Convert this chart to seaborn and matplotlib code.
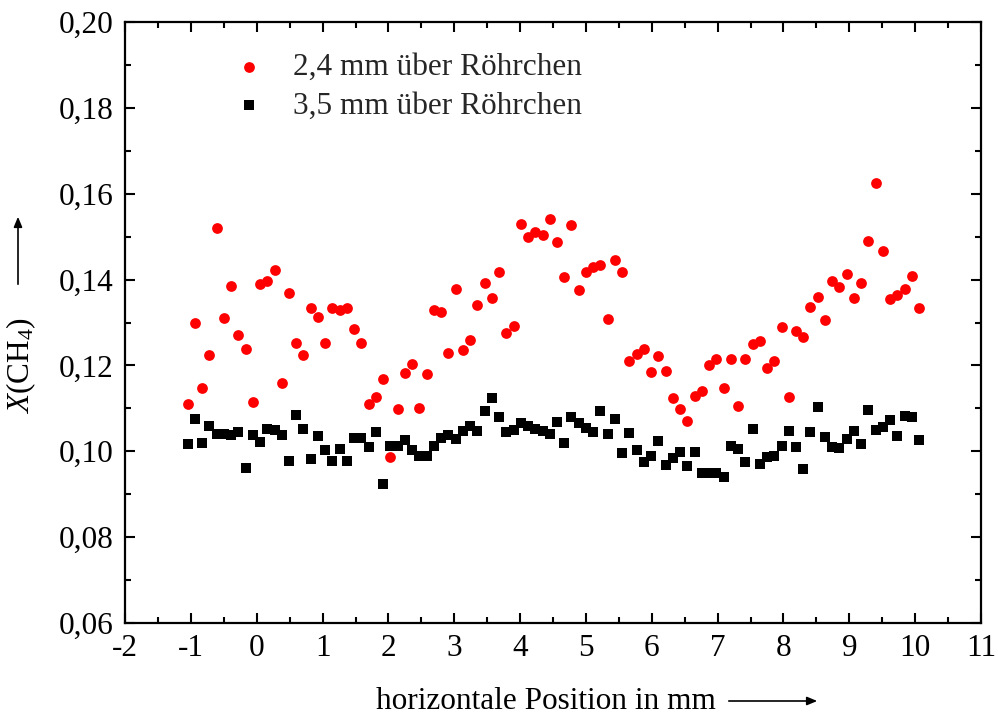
import numpy as np
import pandas as pd
import matplotlib
matplotlib.use("Agg")
import matplotlib.pyplot as plt
from matplotlib.ticker import FuncFormatter, MultipleLocator
import seaborn as sns

# ---- data ----
x_pos = [-1.05, -0.94, -0.83, -0.72, -0.61, -0.50, -0.39, -0.28, -0.17, -0.06,
         0.05, 0.16, 0.27, 0.38, 0.49, 0.60, 0.71, 0.82, 0.93, 1.04,
         1.15, 1.26, 1.37, 1.48, 1.59, 1.70, 1.81, 1.92, 2.03, 2.14,
         2.25, 2.36, 2.47, 2.58, 2.69, 2.80, 2.91, 3.02, 3.13, 3.24,
         3.35, 3.46, 3.57, 3.68, 3.79, 3.90, 4.01, 4.12, 4.23, 4.34,
         4.45, 4.56, 4.67, 4.78, 4.89, 5.00, 5.11, 5.22, 5.33, 5.44,
         5.55, 5.66, 5.77, 5.88, 5.99, 6.10, 6.21, 6.32, 6.43, 6.54,
         6.65, 6.76, 6.87, 6.98, 7.09, 7.20, 7.31, 7.42, 7.53, 7.64,
         7.75, 7.86, 7.97, 8.08, 8.19, 8.30, 8.41, 8.52, 8.63, 8.74,
         8.85, 8.96, 9.07, 9.18, 9.29, 9.40, 9.51, 9.62, 9.73, 9.84,
         9.95, 10.06]

y_24mm = [0.1109, 0.1298, 0.1148, 0.1224, 0.1521, 0.1311, 0.1385, 0.1270, 0.1238, 0.1114,
          0.1389, 0.1396, 0.1423, 0.1160, 0.1368, 0.1253, 0.1225, 0.1333, 0.1312, 0.1253,
          0.1333, 0.1329, 0.1334, 0.1285, 0.1252, 0.1111, 0.1127, 0.1169, 0.0987, 0.1099,
          0.1183, 0.1203, 0.1101, 0.1180, 0.1329, 0.1324, 0.1228, 0.1378, 0.1236, 0.1259,
          0.1341, 0.1392, 0.1356, 0.1417, 0.1275, 0.1291, 0.1530, 0.1500, 0.1510, 0.1503,
          0.1541, 0.1488, 0.1406, 0.1528, 0.1376, 0.1417, 0.1430, 0.1433, 0.1308, 0.1445,
          0.1417, 0.1210, 0.1226, 0.1238, 0.1184, 0.1221, 0.1186, 0.1124, 0.1098, 0.1071,
          0.1129, 0.1141, 0.1200, 0.1216, 0.1148, 0.1214, 0.1105, 0.1214, 0.1249, 0.1256,
          0.1195, 0.1210, 0.1289, 0.1127, 0.1281, 0.1266, 0.1336, 0.1360, 0.1305, 0.1397,
          0.1383, 0.1413, 0.1356, 0.1391, 0.1490, 0.1625, 0.1466, 0.1354, 0.1363, 0.1378,
          0.1408, 0.1334]

y_35mm = [0.1016, 0.1076, 0.1020, 0.1058, 0.1041, 0.1041, 0.1037, 0.1046, 0.0961, 0.1038,
          0.1022, 0.1051, 0.1050, 0.1037, 0.0977, 0.1085, 0.1052, 0.0981, 0.1036, 0.1002,
          0.0977, 0.1005, 0.0977, 0.1030, 0.1031, 0.1011, 0.1046, 0.0924, 0.1012, 0.1012,
          0.1027, 0.1002, 0.0989, 0.0990, 0.1012, 0.1031, 0.1039, 0.1029, 0.1047, 0.1058,
          0.1047, 0.1093, 0.1124, 0.1080, 0.1045, 0.1049, 0.1065, 0.1059, 0.1052, 0.1048,
          0.1040, 0.1069, 0.1019, 0.1079, 0.1067, 0.1055, 0.1044, 0.1093, 0.1041, 0.1075,
          0.0995, 0.1043, 0.1004, 0.0975, 0.0989, 0.1023, 0.0969, 0.0985, 0.0998, 0.0966,
          0.0998, 0.0949, 0.0949, 0.0949, 0.0941, 0.1012, 0.1006, 0.0974, 0.1053, 0.0971,
          0.0987, 0.0988, 0.1012, 0.1047, 0.1009, 0.0958, 0.1046, 0.1103, 0.1033, 0.1011,
          0.1007, 0.1029, 0.1047, 0.1016, 0.1096, 0.1049, 0.1057, 0.1072, 0.1035, 0.1082,
          0.1080, 0.1027]

label_24 = "2,4 mm über Röhrchen"
label_35 = "3,5 mm über Röhrchen"
x_ticks = list(range(-2, 12))
y_ticks = [0.06, 0.08, 0.10, 0.12, 0.14, 0.16, 0.18, 0.20]

df24 = pd.DataFrame({"x": x_pos, "y": y_24mm})
df35 = pd.DataFrame({"x": x_pos, "y": y_35mm})

sns.set_theme(style="ticks")
plt.rcParams["font.family"] = ["Liberation Serif", "DejaVu Serif"]
plt.rcParams["mathtext.fontset"] = "custom"
plt.rcParams["mathtext.rm"] = "Liberation Serif"
plt.rcParams["mathtext.it"] = "Liberation Serif:italic"

FS = 22.5
fig = plt.figure(figsize=(9.98, 7.17), dpi=100)
ax = fig.add_axes([0.1253, 0.1311, 0.8577, 0.8382])

sns.scatterplot(data=df24, x="x", y="y", ax=ax, color="#ff0000", marker="o",
                s=60, linewidth=0, label=label_24)
sns.scatterplot(data=df35, x="x", y="y", ax=ax, color="black", marker="s",
                s=48, linewidth=0, label=label_35)

ax.set_xlim(-2, 11)
ax.set_ylim(0.06, 0.20)
ax.set_xticks(x_ticks)
ax.set_yticks(y_ticks)
ax.xaxis.set_minor_locator(MultipleLocator(0.5))
ax.yaxis.set_minor_locator(MultipleLocator(0.01))
ax.xaxis.set_major_formatter(FuncFormatter(lambda v, p: f"{int(round(v))}"))
ax.yaxis.set_major_formatter(FuncFormatter(lambda v, p: f"{v:.2f}".replace(".", ",")))

for sp in ax.spines.values():
    sp.set_visible(True)
    sp.set_linewidth(1.6)
    sp.set_color("black")

ax.tick_params(which="both", direction="in", top=True, right=True,
               colors="black", labelsize=FS, width=1.5)
ax.tick_params(which="major", length=7, pad=8)
ax.tick_params(which="minor", length=4)
ax.set_xlabel("")
ax.set_ylabel("")

# axis titles with arrows
fig.text(0.547, 0.022, "horizontale Position in mm", ha="center", va="center",
         fontsize=FS, color="black")
fig.add_artist(matplotlib.patches.FancyArrowPatch(
    (726 / 998, 1 - 701 / 717), (820 / 998, 1 - 701 / 717),
    transform=fig.transFigure, arrowstyle="-|>,head_length=6,head_width=2.5",
    mutation_scale=1, linewidth=1.2, color="black"))

fig.text(0.021, 1 - 365 / 717, r"$\mathit{X}\mathrm{(CH_4)}$", ha="center",
         va="center", rotation=90, fontsize=FS, color="black")
fig.add_artist(matplotlib.patches.FancyArrowPatch(
    (18 / 998, 1 - 287 / 717), (18 / 998, 1 - 214 / 717),
    transform=fig.transFigure, arrowstyle="-|>,head_length=6,head_width=2.5",
    mutation_scale=1, linewidth=1.2, color="black"))

leg = ax.legend(loc="upper left", bbox_to_anchor=(0.117, 0.948), frameon=False,
                fontsize=FS, handlelength=1.5, handletextpad=0.67,
                borderpad=0, borderaxespad=0, labelspacing=0.3)

fig.savefig("out.png", dpi=100, facecolor="white")
